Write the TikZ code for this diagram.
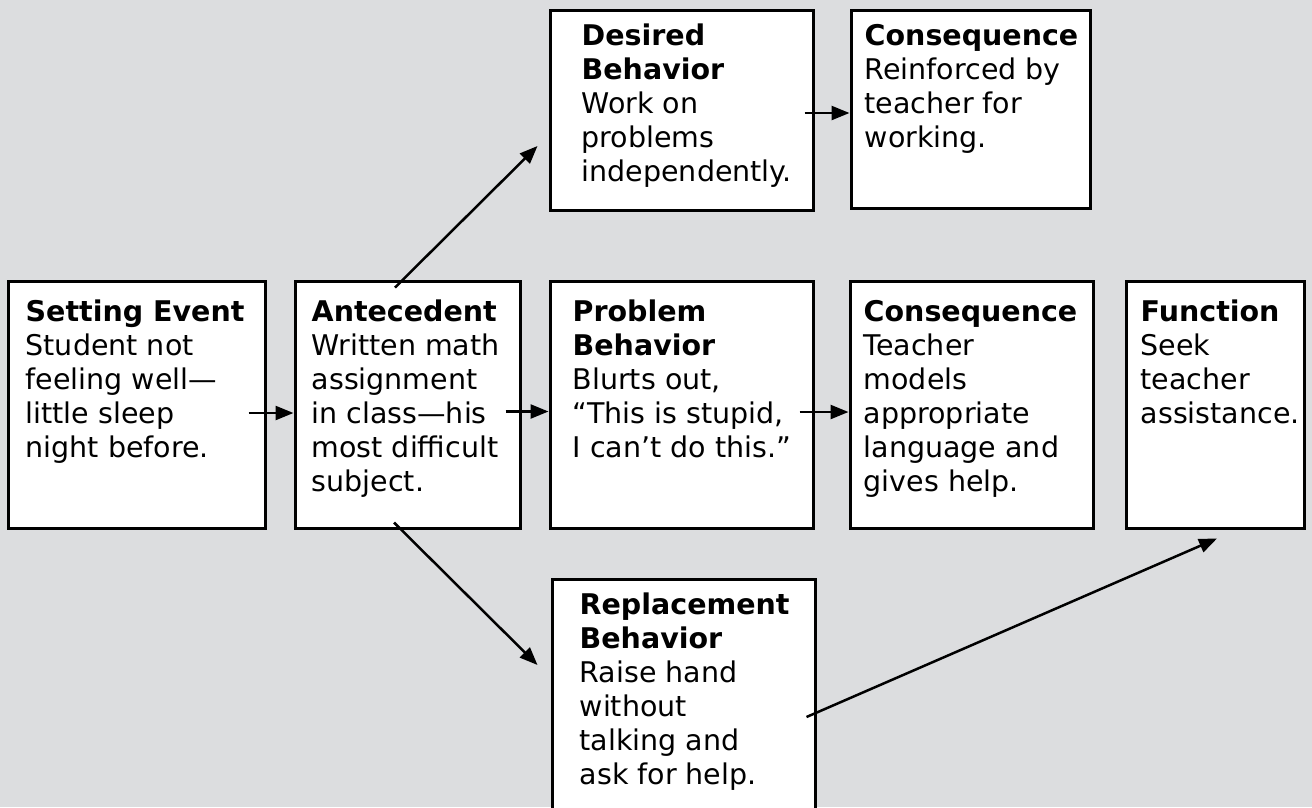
\documentclass[tikz,border=0pt]{standalone}
\usepackage{fontspec}
\setmainfont{DejaVu Sans}
\usetikzlibrary{arrows.meta}
\definecolor{bg}{RGB}{220,221,223}
\tikzset{
  box/.style={draw=black, line width=3pt, fill=white, inner sep=0pt},
  arr/.style={line width=2.5pt, -{Triangle[length=18pt,width=14pt]}},
  txt/.style={anchor=base west, inner sep=0pt, align=left}
}
\newcommand{\bxtext}[1]{\parbox[t]{300pt}{\fontsize{28.5pt}{34pt}\selectfont #1}}
\begin{document}
\begin{tikzpicture}[x=1pt,y=-1pt]
\useasboundingbox (0,0) rectangle (1312,807);
\fill[bg] (0,0) rectangle (1312,807);
% boxes
\node[box, minimum width=257pt, minimum height=247pt] (set)  at (136.5,404.5) {};
\node[box, minimum width=225pt, minimum height=247pt] (ant)  at (407.5,404.5) {};
\node[box, minimum width=263pt, minimum height=247pt] (prob) at (681.5,404.5) {};
\node[box, minimum width=243pt, minimum height=247pt] (cons) at (971.5,404.5) {};
\node[box, minimum width=178pt, minimum height=247pt] (func) at (1215,404.5) {};
\node[box, minimum width=263pt, minimum height=200pt] (des)  at (681.5,110) {};
\node[box, minimum width=239pt, minimum height=198pt] (consB) at (970.5,109) {};
\node[box, minimum width=263pt, minimum height=235pt] (rep)  at (683.5,696.5) {};
% texts
\node[txt] (setT) at ([xshift=19pt,yshift=-42pt]set.north west)
  {\bxtext{\textbf{Setting Event}\\Student not\\feeling well—\\little sleep\\night before.}};
\node[txt] (antT) at ([xshift=18pt,yshift=-42pt]ant.north west)
  {\bxtext{\textbf{Antecedent}\\Written math\\assignment\\in class—his\\most difficult\\subject.}};
\node[txt] (probT) at ([xshift=24pt,yshift=-42pt]prob.north west)
  {\bxtext{\textbf{Problem}\\\textbf{Behavior}\\Blurts out,\\“This is stupid,\\I can’t do this.”}};
\node[txt] (consT) at ([xshift=15pt,yshift=-42pt]cons.north west)
  {\bxtext{\textbf{Consequence}\\Teacher\\models\\appropriate\\language and\\gives help.}};
\node[txt] (funcT) at ([xshift=16pt,yshift=-42pt]func.north west)
  {\bxtext{\textbf{Function}\\Seek\\teacher\\assistance.}};
\node[txt] (desT) at ([xshift=33pt,yshift=-37pt]des.north west)
  {\bxtext{\textbf{Desired}\\\textbf{Behavior}\\Work on\\problems\\independently.}};
\node[txt] (consBT) at ([xshift=15pt,yshift=-37pt]consB.north west)
  {\bxtext{\textbf{Consequence}\\Reinforced by\\teacher for\\working.}};
\node[txt] (repT) at ([xshift=29pt,yshift=-37pt]rep.north west)
  {\bxtext{\textbf{Replacement}\\\textbf{Behavior}\\Raise hand\\without\\talking and\\ask for help.}};
% connectors
\draw[arr] ([xshift=-18pt,yshift=-8.5pt]set.east) -- ([yshift=-8.5pt]ant.west);
\draw[arr] ([xshift=-16pt,yshift=-7pt]ant.east) -- ([yshift=-7pt]prob.west);
\draw[arr] ([xshift=-15pt,yshift=-7.5pt]prob.east) -- ([yshift=-7.5pt]cons.west);
\draw[arr] ([xshift=-10pt,yshift=-3pt]des.east) -- ([yshift=-4pt]consB.west);
\draw[arr] ([xshift=-12.5pt,yshift=-8pt]ant.north) -- ([xshift=-11pt,yshift=-36pt]des.west);
\draw[arr] ([xshift=-13.5pt,yshift=7pt]ant.south) -- ([xshift=-13pt,yshift=31.5pt]rep.west);
\draw[arr] ([xshift=-10pt,yshift=-20.5pt]rep.east) -- ([xshift=2pt,yshift=-9pt]func.south);
\end{tikzpicture}
\end{document}
